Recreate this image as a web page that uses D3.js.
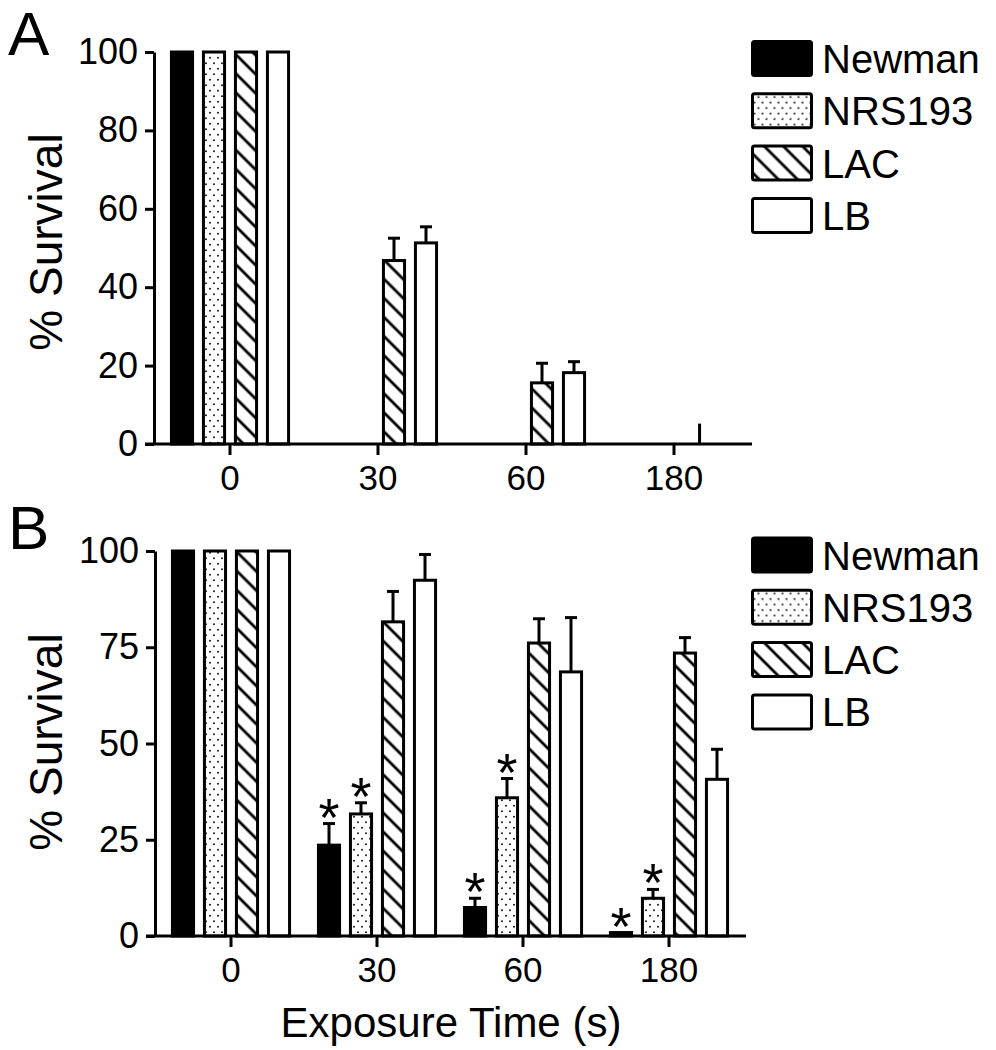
<!DOCTYPE html>
<html>
<head>
<meta charset="utf-8">
<script src="https://cdn.jsdelivr.net/npm/d3@7/dist/d3.min.js"></script>
<style>
  html, body { margin: 0; padding: 0; background: #fff; }
  svg { display: block; }
  text { font-family: "Liberation Sans", Arial, sans-serif; fill: #000; }
</style>
</head>
<body>
<svg id="chart" width="996" height="1050"></svg>
<script>
// ---------- data ----------
const groups = ["0", "30", "60", "180"];
const series = ["Newman", "NRS193", "LAC", "LB"];
const yTicksA = [0, 20, 40, 60, 80, 100];
const yTicksB = [0, 25, 50, 75, 100];

// Panel A: mean % survival and SEM
const newmanA = [100, 0, 0, 0];
const nrsA    = [100, 0, 0, 0];
const lacA    = [100, 46.8, 15.6, 0];
const lbA     = [100, 51.3, 18.2, 0];
const newmanAErr = [0, 0, 0, 0];
const nrsAErr    = [0, 0, 0, 0];
const lacAErr    = [0, 5.7, 5.0, 0];
const lbAErr     = [0, 4.1, 2.8, 0];
// stray vertical mark at 180 s (edge of LAC position)
const strayA = [{ group: "180", series: "LAC", top: 5.2 }];

// Panel B
const newmanB = [100, 23.6, 7.4, 0.9];
const nrsB    = [100, 31.7, 35.9, 9.8];
const lacB    = [100, 81.6, 76.1, 73.5];
const lbB     = [100, 92.4, 68.6, 40.7];
const newmanBErr = [0, 5.6, 2.4, 0];
const nrsBErr    = [0, 2.9, 5.0, 2.3];
const lacBErr    = [0, 7.9, 6.3, 4.0];
const lbBErr     = [0, 6.7, 14.1, 7.8];
const sigNewmanB = [false, true, true, true];
const sigNrsB    = [false, true, true, true];

// ---------- build rows ----------
function rows(vals, errs, sigs) {
  const out = [];
  series.forEach((s, si) => {
    groups.forEach((g, gi) => {
      out.push({ series: s, group: g, value: vals[si][gi], err: errs[si][gi], sig: sigs ? sigs[si][gi] : false });
    });
  });
  return out;
}
const dataA = rows([newmanA, nrsA, lacA, lbA], [newmanAErr, nrsAErr, lacAErr, lbAErr]);
const dataB = rows([newmanB, nrsB, lacB, lbB], [newmanBErr, nrsBErr, lacBErr, lbBErr],
                   [sigNewmanB, sigNrsB, [false,false,false,false], [false,false,false,false]]);

const svg = d3.select("#chart");
const defs = svg.append("defs");

// patterns
const dots = defs.append("pattern").attr("id", "dots").attr("patternUnits", "userSpaceOnUse")
  .attr("width", 8).attr("height", 11);
dots.append("rect").attr("width", 8).attr("height", 11).attr("fill", "#fff");
dots.append("circle").attr("cx", 2).attr("cy", 2.75).attr("r", 1.05).attr("fill", "#222");
dots.append("circle").attr("cx", 6).attr("cy", 8.25).attr("r", 1.05).attr("fill", "#222");

const hatch = defs.append("pattern").attr("id", "hatch").attr("patternUnits", "userSpaceOnUse")
  .attr("width", 13.5).attr("height", 13.5).attr("patternTransform", "rotate(45)");
hatch.append("rect").attr("width", 13.5).attr("height", 13.5).attr("fill", "#fff");
hatch.append("line").attr("x1", 0).attr("x2", 13.5).attr("y1", 6.75).attr("y2", 6.75)
  .attr("stroke", "#000").attr("stroke-width", 2.8);

const fillOf = d3.scaleOrdinal().domain(series).range(["#000", "url(#dots)", "url(#hatch)", "#fff"]);

const FONT_TICK = 36;
const SW = 3;

function panel(cfg) {
  const { data, yTicks, top, bottom, axisX, xRange, letter, letterY, labelY, legendY, stray } = cfg;
  const g = svg.append("g");
  const y = d3.scaleLinear().domain([0, 100]).range([bottom, top]);
  const x = d3.scaleBand().domain(groups).range(xRange).padding(0);
  const inner = d3.scaleBand().domain(series).range([-64, 64]).paddingInner(0.34).paddingOuter(0.17);

  // bars
  const bars = data.filter(d => d.value > 0);
  g.selectAll("rect.bar").data(bars).join("rect")
    .attr("class", "bar")
    .attr("x", d => x(d.group) + x.bandwidth() / 2 + inner(d.series))
    .attr("width", inner.bandwidth())
    .attr("y", d => y(d.value))
    .attr("height", d => y(0) - y(d.value))
    .attr("fill", d => fillOf(d.series))
    .attr("stroke", "#000").attr("stroke-width", SW);

  // error bars
  const errs = data.filter(d => d.err > 0);
  const cx = d => x(d.group) + x.bandwidth() / 2 + inner(d.series) + inner.bandwidth() / 2;
  g.selectAll("line.err").data(errs).join("line")
    .attr("x1", cx).attr("x2", cx)
    .attr("y1", d => y(d.value)).attr("y2", d => y(d.value + d.err))
    .attr("stroke", "#000").attr("stroke-width", SW);
  g.selectAll("line.cap").data(errs).join("line")
    .attr("x1", d => cx(d) - 6).attr("x2", d => cx(d) + 6)
    .attr("y1", d => y(d.value + d.err)).attr("y2", d => y(d.value + d.err))
    .attr("stroke", "#000").attr("stroke-width", SW);

  // stray marks
  if (stray) {
    g.selectAll("line.stray").data(stray).join("line")
      .attr("x1", d => x(d.group) + x.bandwidth() / 2 + inner(d.series) + inner.bandwidth() - 1)
      .attr("x2", d => x(d.group) + x.bandwidth() / 2 + inner(d.series) + inner.bandwidth() - 1)
      .attr("y1", y(0)).attr("y2", d => y(d.top))
      .attr("stroke", "#000").attr("stroke-width", SW);
  }

  // significance stars
  g.selectAll("text.star").data(data.filter(d => d.sig)).join("text")
    .attr("class", "star")
    .attr("x", cx)
    .attr("y", d => y(d.value + d.err) + 12)
    .attr("text-anchor", "middle")
    .style("font-size", "54px")
    .text("*");

  // y axis
  const yAxis = d3.axisLeft(y).tickValues(yTicks).tickSize(9).tickSizeOuter(0).tickPadding(7);
  const ya = g.append("g").attr("transform", `translate(${axisX},0)`).call(yAxis);
  ya.select(".domain").attr("stroke-width", SW);
  ya.selectAll(".tick line").attr("stroke-width", SW);
  ya.selectAll(".tick text").style("font-size", FONT_TICK + "px")
    .style("font-family", '"Liberation Sans", Arial, sans-serif').attr("fill", "#000");

  // x axis
  const xAxis = d3.axisBottom(x).tickSize(11).tickSizeOuter(0).tickPadding(10);
  const xa = g.append("g").attr("transform", `translate(0,${bottom})`).call(xAxis);
  xa.select(".domain").remove();
  xa.selectAll(".tick line").attr("stroke-width", SW);
  xa.selectAll(".tick text").style("font-size", "35px")
    .style("font-family", '"Liberation Sans", Arial, sans-serif').attr("fill", "#000");
  g.append("line")
    .attr("x1", axisX - 9).attr("x2", xRange[1] + 4)
    .attr("y1", bottom).attr("y2", bottom)
    .attr("stroke", "#000").attr("stroke-width", SW);

  // y label
  g.append("text")
    .attr("transform", `translate(62,${labelY}) rotate(-90)`)
    .attr("text-anchor", "middle")
    .style("font-size", "46px")
    .text("% Survival");

  // panel letter
  g.append("text").attr("x", 8).attr("y", letterY).style("font-size", "62px").text(letter);

  // legend
  const lg = g.append("g").attr("transform", `translate(752.5,${legendY})`);
  const items = lg.selectAll("g").data(series).join("g")
    .attr("transform", (d, i) => `translate(0,${i * 52.3})`);
  items.append("rect").attr("x", 0).attr("y", -17).attr("width", 59).attr("height", 34)
    .attr("rx", 2)
    .attr("fill", d => fillOf(d)).attr("stroke", "#000").attr("stroke-width", SW);
  items.append("text").attr("x", 69.5).attr("y", 14.5).style("font-size", "40px").text(d => d);
}

panel({ data: dataA, yTicks: yTicksA, top: 52, bottom: 444, axisX: 154, xRange: [156, 748],
        letter: "A", letterY: 55, labelY: 242, legendY: 58.5, stray: strayA });
panel({ data: dataB, yTicks: yTicksB, top: 551, bottom: 936, axisX: 155, xRange: [158, 742],
        letter: "B", letterY: 549, labelY: 742, legendY: 555 });

// x axis title
svg.append("text").attr("x", 451).attr("y", 1037).attr("text-anchor", "middle")
  .style("font-size", "42px").text("Exposure Time (s)");
</script>
</body>
</html>
